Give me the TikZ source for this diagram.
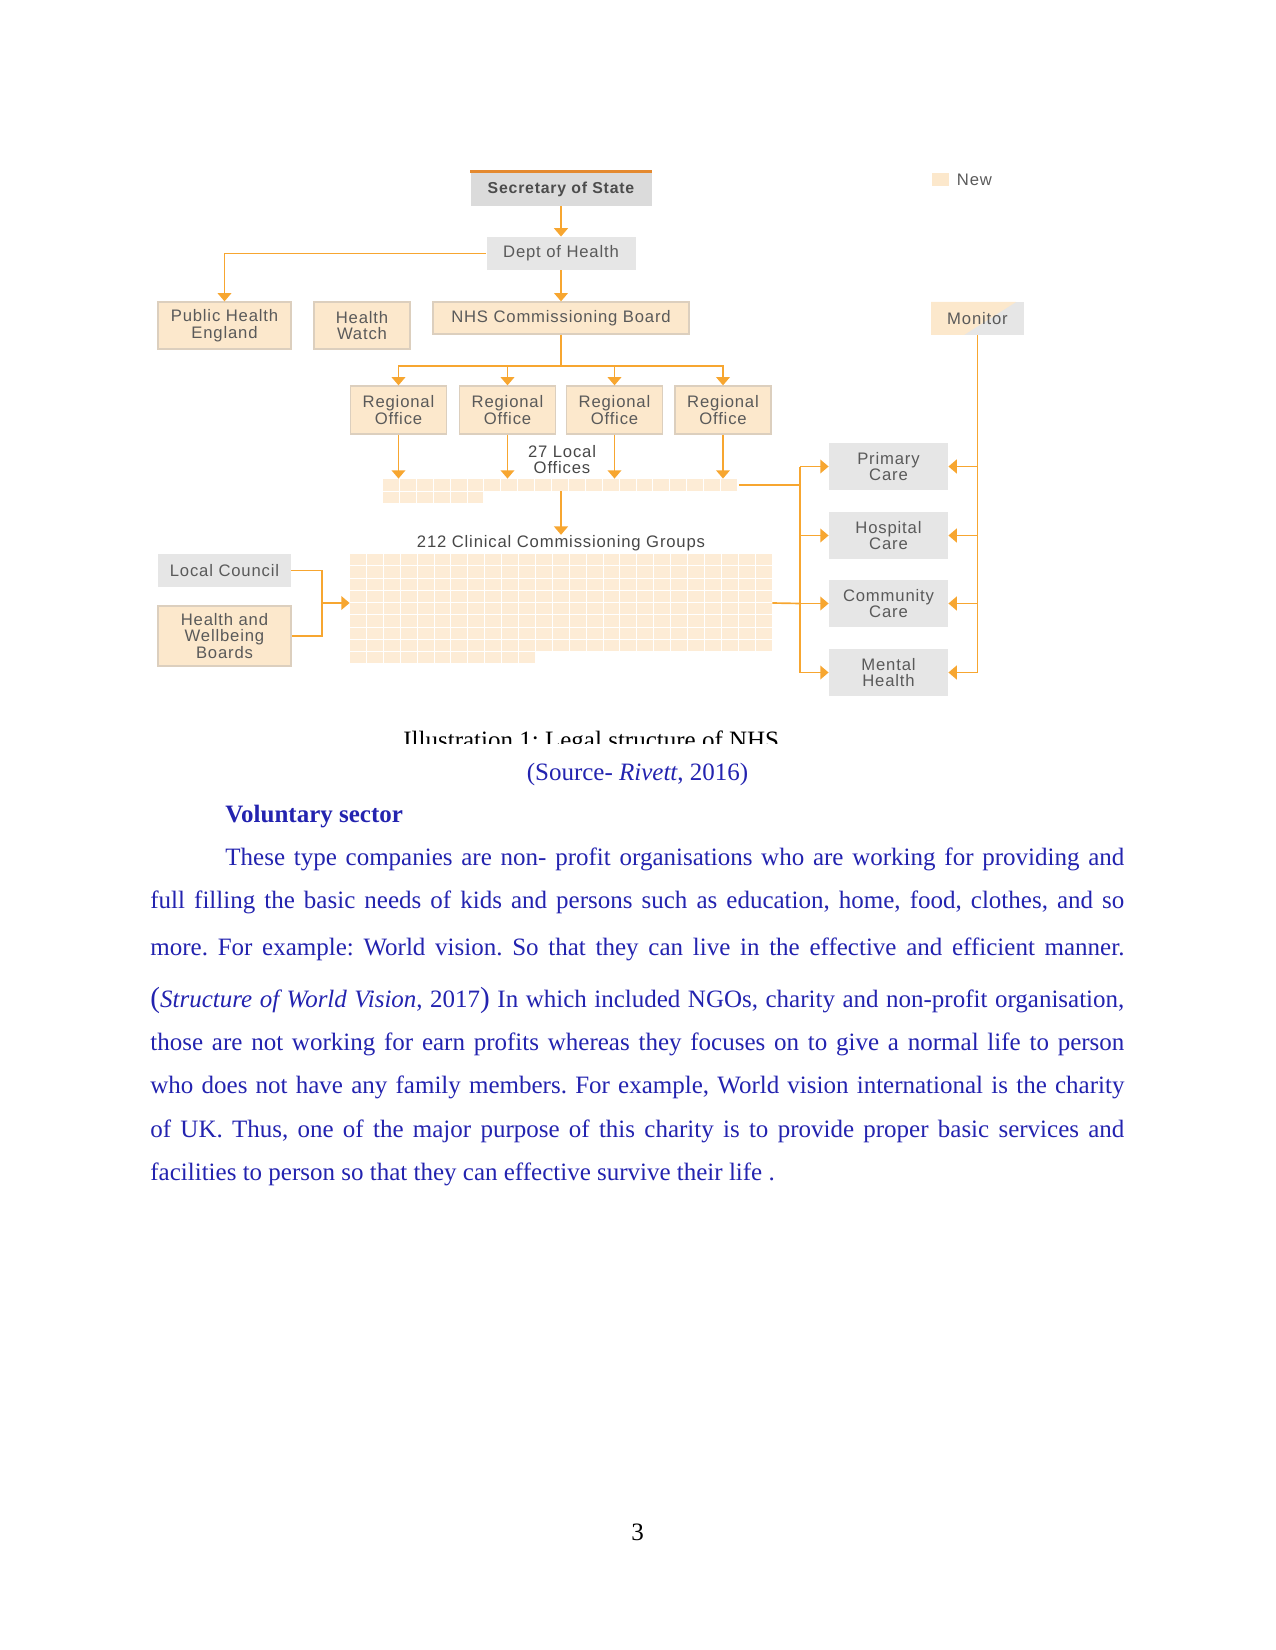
\documentclass[tikz,border=0pt]{standalone}
\usepackage{fontspec}
\setmainfont{Liberation Serif}
\newfontfamily\chartfont[LetterSpace=5]{Liberation Sans}
\usetikzlibrary{arrows.meta}
\frenchspacing

\definecolor{nhsorange}{HTML}{F7A630}
\definecolor{nhstop}{HTML}{E4892F}
\definecolor{nhscream}{HTML}{FCE8CC}
\definecolor{nhsedge}{HTML}{DCCFBE}
\definecolor{nhsgrey}{HTML}{E6E6E6}
\definecolor{nhsdark}{HTML}{DBDBDB}
\definecolor{nhstext}{HTML}{5A5A5A}
\definecolor{celltone}{HTML}{FDECD6}
\definecolor{bodyblue}{HTML}{2323AF}

\tikzset{
  org/.style={font=\chartfont\fontsize{8}{8}\selectfont, text=nhstext,
    align=center, inner sep=0pt},
  newbox/.style={org, fill=nhscream, draw=nhsedge, line width=0.6pt},
  oldbox/.style={org, fill=nhsgrey},
  dims/.style 2 args={minimum width=#1*0.48pt, minimum height=#2*0.48pt},
  link/.style={draw=nhsorange, line width=0.8pt},
  feed/.style={link, -{Triangle[length=4pt, width=6.6pt]}},
  para/.style={anchor=base west, inner sep=0pt, text=bodyblue,
    font=\fontsize{12}{14}\selectfont},
}

\begin{document}
\begin{tikzpicture}[x=0.48pt, y=-0.48pt]
  \useasboundingbox (0,0) rectangle (1275,1650);

  % Top of the chart.
  \node[org, fill=nhsdark, dims={181}{34}, text=black!70,
    font=\chartfont\bfseries\fontsize{7.6}{8}\selectfont] (sos) at (561,189) {Secretary of State};
  \draw[nhstop, line width=1.2pt] (sos.north west) -- (sos.north east);
  \node[oldbox, dims={149}{33}] (doh) at (561,253.5) {Dept of Health};
  \node[newbox, dims={133}{47}] (phe) at (224.5,325.5) {Public Health\\England};
  \node[newbox, dims={96}{47}] (hw) at (362,325.5) {Health\\Watch};
  \node[newbox, dims={256}{32}] (ncb) at (561,318) {NHS Commissioning Board};

  % Monitor, half new.
  \fill[nhsgrey] (931,302) rectangle (1024,335);
  \fill[nhscream] (931,302) -- (1016,302) -- (964,335) -- (931,335) -- cycle;
  \node[org, dims={93}{33}] (mon) at (977.5,318.5) {Monitor};

  % Key.
  \node[fill=nhscream, dims={17}{13}, inner sep=0pt] (newkey) at (940.5,179.5) {};
  \node[org, anchor=west, xshift=3.4pt] (newlbl) at (newkey.east) {New};

  \draw[feed] (sos) -- (doh);
  \draw[feed] (doh.west) -| (phe.north);
  \draw[feed] (doh) -- (ncb);

  % Regional offices.
  \coordinate (split) at (561,366);
  \foreach \i/\x in {1/398.5, 2/507.5, 3/614.5, 4/723}
    \node[newbox, dims={96}{48}] (ro\i) at (\x,410) {Regional\\Office};
  \draw[link] (ncb.south) -- (split);
  \foreach \i in {1,...,4}
    \draw[feed] (split) -| (ro\i.north);

  % 27 local offices: 21 + 6.
  \foreach \c in {0,...,20}
    \fill[celltone] ({383+16.9*\c},479) rectangle +(15.9,11.6);
  \foreach \c in {0,...,5}
    \fill[celltone] ({383+16.9*\c},491.5) rectangle +(15.9,11.6);
  \node[dims={355}{12}, inner sep=0pt] (lo) at (561,485) {};
  \node[org, text=black!72] (lolbl) at (562,459.5) {27 Local\\Offices};
  \foreach \i in {1,...,4}
    \draw[feed] (ro\i.south) -- (ro\i.south |- lo.north);

  % 212 CCGs: 25 x 8 + 11.
  \node[org, text=black!72] (ccglbl) at (561,543) {212 Clinical Commissioning Groups};
  \draw[feed] (lo.south) -- (ccglbl.north);
  \foreach \c in {0,...,24}
    \foreach \r in {0,...,7}
      \fill[celltone] ({350+16.9*\c},{554+12.25*\r}) rectangle +(15.9,11.3);
  \foreach \c in {0,...,10}
    \fill[celltone] ({350+16.9*\c},652) rectangle +(15.9,11.3);
  \node[dims={422}{98}, inner sep=0pt] (ccg) at (561,603) {};

  % Local side.
  \node[oldbox, dims={133}{33}] (lc) at (224.5,570.5) {Local Council};
  \node[newbox, dims={133}{60}] (hwb) at (224.5,636) {Health and\\Wellbeing\\Boards};
  \coordinate (join) at (322,603);
  \draw[link] (lc.east) -| (join) |- (hwb.east);
  \draw[feed] (join) -- (ccg.west);

  % Care providers.
  \foreach \n/\y/\t in {pc/466.5/{Primary\\Care}, hc/535.5/{Hospital\\Care},
      cc/603.5/{Community\\Care}, mh/672.5/{Mental\\Health}}
    \node[oldbox, dims={119}{47}] (\n) at (888.5,\y) {\t};
  \coordinate (lbus) at (800,485);
  \draw[link] (lo.east) -- (lbus);
  \draw[link] (lbus |- pc) -- (lbus |- mh);
  \draw[link] (ccg.east) -- (lbus |- cc);
  \foreach \n in {pc,hc,cc,mh}
    \draw[feed] (lbus |- \n) -- (\n.west);
  \draw[link] (mon.south) -- (mon.south |- mh);
  \foreach \n in {pc,hc,cc,mh}
    \draw[feed] (mon.south |- \n) -- (\n.east);

  % Caption, cut off at the bottom.
  \begin{scope}
    \clip (380,720) rectangle (800,743);
    \node[anchor=base west, inner sep=0pt, font=\fontsize{12}{14}\selectfont]
      (caption) at (403,748.5) {Illustration 1: Legal structure of NHS};
  \end{scope}

  % Text below.
  \node[para, anchor=base] (source) at (637.5,780) {(Source- \textit{Rivett}, 2016)};
  \node[para, font=\bfseries\fontsize{12}{14}\selectfont] (heading) at (225,822) {Voluntary sector};
  \node[para] (l1) at (225,865) {\makebox[431.5pt][s]{These type companies are non- profit organisations who are working for providing and}};
  \node[para] (l2) at (150,908) {\makebox[467.5pt][s]{full filling the basic needs of kids and persons such as education, home, food, clothes, and so}};
  \node[para] (l3) at (150,955) {\makebox[467.5pt][s]{more. For example: World vision. So that they can live in the effective and efficient manner.}};
  \node[para] (l4) at (150,1007) {\makebox[467.5pt][s]{{\fontsize{14}{14}\selectfont(}\textit{Structure of World Vision}, 2017{\fontsize{14}{14}\selectfont)} In which included NGOs, charity and non-profit organisation,}};
  \node[para] (l5) at (150,1050) {\makebox[467.5pt][s]{those are not working for earn profits whereas they focuses on to give a normal life to person}};
  \node[para] (l6) at (150,1093) {\makebox[467.5pt][s]{who does not have any family members. For example, World vision international is the charity}};
  \node[para] (l7) at (150,1137) {\makebox[467.5pt][s]{of UK. Thus, one of the major purpose of this charity is to provide proper basic services and}};
  \node[para] (l8) at (150,1180) {facilities to person so that they can effective survive their life .};

  \node[anchor=base, inner sep=0pt, font=\fontsize{12}{14}\selectfont] (pagenum) at (637.5,1540) {3};
\end{tikzpicture}
\end{document}
